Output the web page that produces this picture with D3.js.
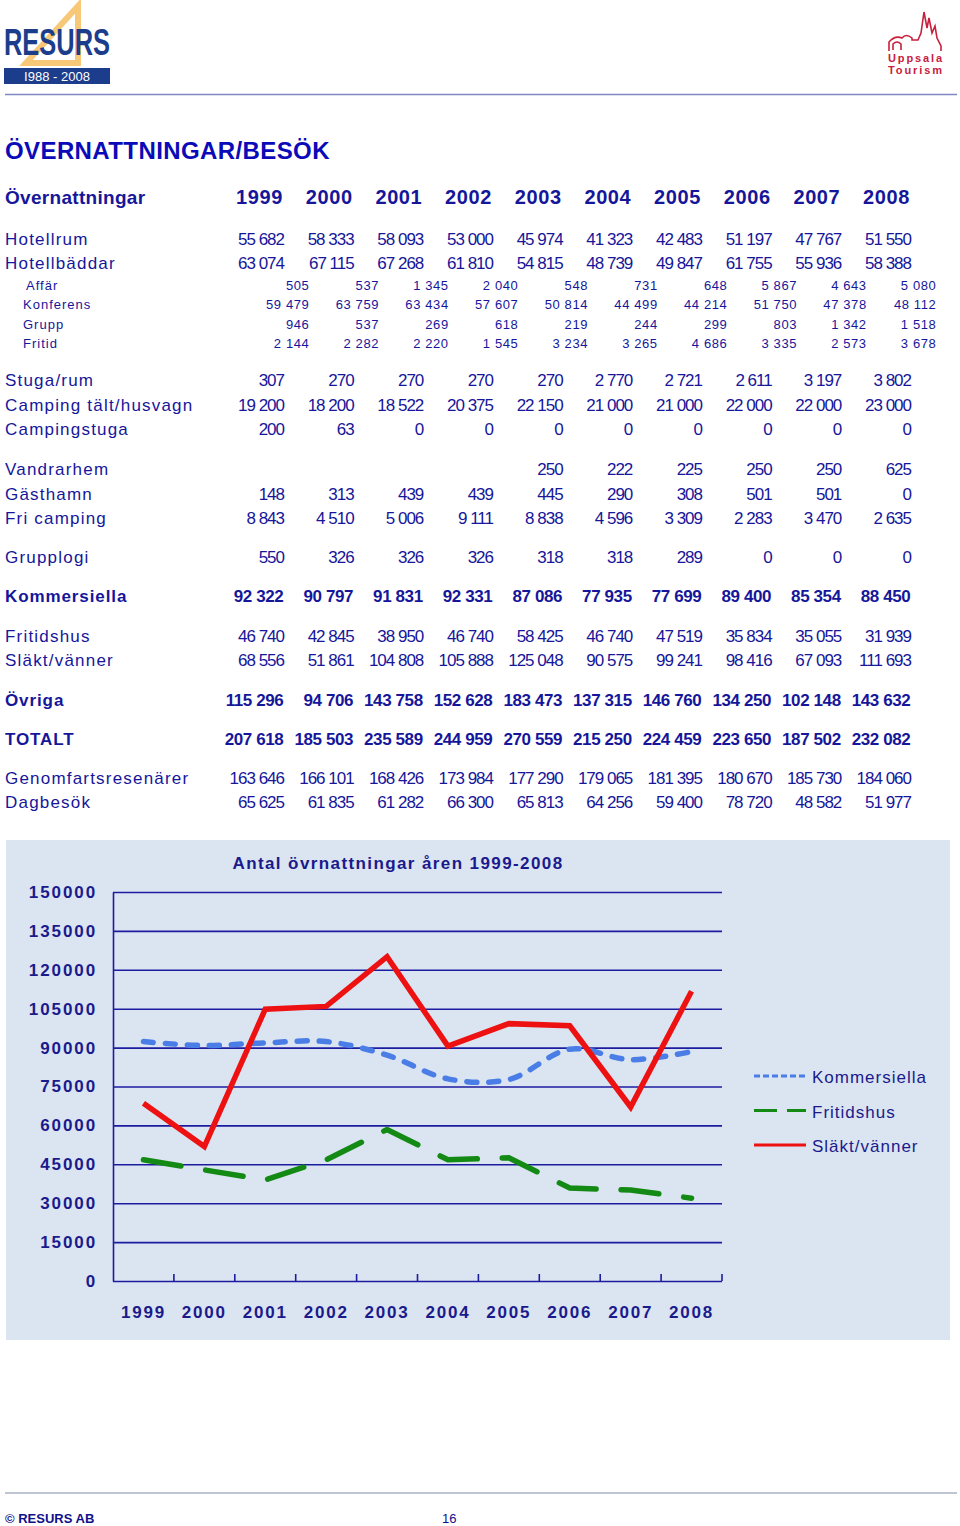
<!DOCTYPE html>
<html>
<body style="margin:0;background:#fff">
<meta charset="UTF-8">
<title>Övernattningar/besök</title>
<style>
    svg text { font-family: "Liberation Sans", Arial, sans-serif; }
</style>
<script src="https://d3js.org/d3.v7.min.js"></script>
<script>

    var years = [1999, 2000, 2001, 2002, 2003, 2004, 2005, 2006, 2007, 2008];

    var hotellrum      = [55682, 58333, 58093, 53000, 45974, 41323, 42483, 51197, 47767, 51550];
    var hotellbaddar   = [63074, 67115, 67268, 61810, 54815, 48739, 49847, 61755, 55936, 58388];
    var affar          = [505, 537, 1345, 2040, 548, 731, 648, 5867, 4643, 5080];
    var konferens      = [59479, 63759, 63434, 57607, 50814, 44499, 44214, 51750, 47378, 48112];
    var grupp          = [946, 537, 269, 618, 219, 244, 299, 803, 1342, 1518];
    var fritid         = [2144, 2282, 2220, 1545, 3234, 3265, 4686, 3335, 2573, 3678];
    var stugaRum       = [307, 270, 270, 270, 270, 2770, 2721, 2611, 3197, 3802];
    var campingTalt    = [19200, 18200, 18522, 20375, 22150, 21000, 21000, 22000, 22000, 23000];
    var campingstuga   = [200, 63, 0, 0, 0, 0, 0, 0, 0, 0];
    var vandrarhem     = [null, null, null, null, 250, 222, 225, 250, 250, 625];
    var gasthamn       = [148, 313, 439, 439, 445, 290, 308, 501, 501, 0];
    var friCamping     = [8843, 4510, 5006, 9111, 8838, 4596, 3309, 2283, 3470, 2635];
    var grupplogi      = [550, 326, 326, 326, 318, 318, 289, 0, 0, 0];
    var kommersiella   = [92322, 90797, 91831, 92331, 87086, 77935, 77699, 89400, 85354, 88450];
    var fritidshus     = [46740, 42845, 38950, 46740, 58425, 46740, 47519, 35834, 35055, 31939];
    var slaktVanner    = [68556, 51861, 104808, 105888, 125048, 90575, 99241, 98416, 67093, 111693];
    var ovriga         = [115296, 94706, 143758, 152628, 183473, 137315, 146760, 134250, 102148, 143632];
    var totalt         = [207618, 185503, 235589, 244959, 270559, 215250, 224459, 223650, 187502, 232082];
    var genomfart      = [163646, 166101, 168426, 173984, 177290, 179065, 181395, 180670, 185730, 184060];
    var dagbesok       = [65625, 61835, 61282, 66300, 65813, 64256, 59400, 78720, 48582, 51977];

    var yTicks = d3.range(0, 150001, 15000);

    var navy = "#16169a";
    var font = "'Liberation Sans', Arial, sans-serif";

    var svg = d3.select("body")
        .append("svg")
        .attr("width", 960)
        .attr("height", 1526);

    // ---- header logos ----
    var logo = svg.append("g");
    logo.append("path")
        .attr("d", "M78,6 L78,63 L26,63 Z")
        .attr("fill", "none")
        .attr("stroke", "#f7c877")
        .attr("stroke-width", 6)
        .attr("stroke-linejoin", "miter");
    logo.append("text")
        .attr("x", 4).attr("y", 55)
        .attr("textLength", 106).attr("lengthAdjust", "spacingAndGlyphs")
        .style("font-size", "37px").style("font-weight", "bold")
        .attr("fill", "#1c3d8c")
        .text("RESURS");
    logo.append("rect")
        .attr("x", 4).attr("y", 68).attr("width", 106).attr("height", 16)
        .attr("fill", "#1c3d8c");
    logo.append("text")
        .attr("x", 57).attr("y", 81)
        .attr("text-anchor", "middle")
        .style("font-size", "13px")
        .attr("fill", "#fff")
        .text("I988 - 2008");

    var ut = svg.append("g").attr("fill", "none").attr("stroke", "#c8203c").attr("stroke-width", 1.6);
    ut.append("path")
        .attr("d", "M889,51 L889,42 Q895,35 902,38 Q906,33 912,38 L912,40 L918,40 L921,33 L924,12 L927,28 L929,18 L932,33 L935,26 L937,38 L941,46 L941,51");
    ut.append("path").attr("d", "M893,50 L893,44 Q897,40 901,44 L901,50");
    svg.append("text").attr("x", 915).attr("y", 62).attr("text-anchor", "middle")
        .style("font-size", "11px").style("font-weight", "bold").attr("fill", "#c8203c")
        .attr("textLength", 54).text("Uppsala");
    svg.append("text").attr("x", 915).attr("y", 74).attr("text-anchor", "middle")
        .style("font-size", "11px").style("font-weight", "bold").attr("fill", "#c8203c")
        .attr("textLength", 54).text("Tourism");

    svg.append("line").attr("x1", 5).attr("x2", 957).attr("y1", 94.5).attr("y2", 94.5)
        .attr("stroke", "#8088c4").attr("stroke-width", 1.5);

    // ---- page title ----
    svg.append("text")
        .attr("x", 5).attr("y", 159)
        .style("font-size", "24px").style("font-weight", "bold")
        .style("letter-spacing", "0.4px")
        .attr("fill", "#0a0ab8")
        .text("ÖVERNATTNINGAR/BESÖK");

    // ---- table ----
    var locale = d3.formatLocale({ decimal: ",", thousands: " ", grouping: [3], currency: ["", ""] });
    var fmt = locale.format(",");

    var colX = d3.scalePoint().domain(years).range([283, 910]);

    var rows = [
        { label: "Hotellrum", values: hotellrum, kind: "main", y: 245 },
        { label: "Hotellbäddar", values: hotellbaddar, kind: "main", y: 269 },
        { label: "Affär", values: affar, kind: "sub", y: 290, indent: 26 },
        { label: "Konferens", values: konferens, kind: "sub", y: 309 },
        { label: "Grupp", values: grupp, kind: "sub", y: 329 },
        { label: "Fritid", values: fritid, kind: "sub", y: 348 },
        { label: "Stuga/rum", values: stugaRum, kind: "main", y: 386 },
        { label: "Camping tält/husvagn", values: campingTalt, kind: "main", y: 411 },
        { label: "Campingstuga", values: campingstuga, kind: "main", y: 435 },
        { label: "Vandrarhem", values: vandrarhem, kind: "main", y: 475 },
        { label: "Gästhamn", values: gasthamn, kind: "main", y: 500 },
        { label: "Fri camping", values: friCamping, kind: "main", y: 524 },
        { label: "Grupplogi", values: grupplogi, kind: "main", y: 563 },
        { label: "Kommersiella", values: kommersiella, kind: "bold", y: 602 },
        { label: "Fritidshus", values: fritidshus, kind: "main", y: 642 },
        { label: "Släkt/vänner", values: slaktVanner, kind: "main", y: 666 },
        { label: "Övriga", values: ovriga, kind: "bold", y: 706 },
        { label: "TOTALT", values: totalt, kind: "bold", y: 745 },
        { label: "Genomfartsresenärer", values: genomfart, kind: "main", y: 784 },
        { label: "Dagbesök", values: dagbesok, kind: "main", y: 808 }
    ];

    var styles = {
        main: { size: 17, weight: "normal", ls: 1.2, numLs: -1, x: 5, dx: 0 },
        sub:  { size: 13, weight: "normal", ls: 1.0, numLs: 0.6, x: 23, dx: 27 },
        bold: { size: 17, weight: "bold", ls: 0.9, numLs: -0.4, x: 5, dx: 0 }
    };

    var table = svg.append("g").attr("fill", navy);

    // header row
    table.append("text")
        .attr("x", 5).attr("y", 204)
        .style("font-size", "19px").style("font-weight", "bold")
        .style("letter-spacing", "0.3px")
        .text("Övernattningar");
    table.selectAll(".year")
        .data(years)
        .enter().append("text")
        .attr("class", "year")
        .attr("x", function(d) { return colX(d); })
        .attr("y", 204)
        .attr("text-anchor", "end")
        .style("font-size", "20px").style("font-weight", "bold")
        .style("letter-spacing", "0.6px")
        .text(function(d) { return d; });

    var rowG = table.selectAll(".row")
        .data(rows)
        .enter().append("g")
        .attr("class", "row");

    rowG.append("text")
        .attr("x", function(d) { return d.indent || styles[d.kind].x; })
        .attr("y", function(d) { return d.y; })
        .style("font-size", function(d) { return styles[d.kind].size + "px"; })
        .style("font-weight", function(d) { return styles[d.kind].weight; })
        .style("letter-spacing", function(d) { return styles[d.kind].ls + "px"; })
        .text(function(d) { return d.label; });

    rowG.each(function(r) {
        var s = styles[r.kind];
        d3.select(this).selectAll(".num")
            .data(r.values.map(function(v, i) { return { v: v, year: years[i] }; })
                .filter(function(d) { return d.v !== null; }))
            .enter().append("text")
            .attr("class", "num")
            .attr("x", function(d) { return colX(d.year) + s.dx - s.numLs; })
            .attr("y", r.y)
            .attr("text-anchor", "end")
            .style("font-size", s.size + "px")
            .style("font-weight", s.weight)
            .style("letter-spacing", s.numLs + "px")
            .text(function(d) { return fmt(d.v); });
    });

    // ---- chart ----
    var panel = { x: 6, y: 840, w: 944, h: 500 };
    svg.append("rect")
        .attr("x", panel.x).attr("y", panel.y)
        .attr("width", panel.w).attr("height", panel.h)
        .attr("fill", "#dbe4f1");

    var x = d3.scaleBand().domain(years).range([113, 722]);
    var y = d3.scaleLinear().domain([0, 150000]).range([1281, 892]);

    var chart = svg.append("g");

    var yAxis = chart.append("g")
        .attr("transform", "translate(113,0)")
        .call(d3.axisLeft(y).tickValues(yTicks).tickFormat(d3.format("d"))
            .tickSize(-609).tickSizeOuter(0).tickPadding(16));
    yAxis.selectAll("line").attr("stroke", "#1c1ca0").attr("stroke-width", 1.6);
    yAxis.select(".domain").attr("stroke", "#1c1ca0").attr("stroke-width", 1.6);
    yAxis.selectAll("text")
        .attr("fill", "#1a1a8c")
        .style("font-family", font)
        .style("font-size", "17px").style("font-weight", "bold")
        .style("letter-spacing", "1.9px");

    var xAxis = chart.append("g")
        .attr("transform", "translate(0,1281)")
        .call(d3.axisBottom(x).tickSize(0).tickPadding(25));
    xAxis.select(".domain").remove();
    xAxis.selectAll("text")
        .attr("fill", "#1a1a8c")
        .style("font-family", font)
        .style("font-size", "17px").style("font-weight", "bold")
        .style("letter-spacing", "1.8px");

    // tick marks between categories
    chart.selectAll(".xtick")
        .data(years.slice(1).map(function(d) { return x(d); }).concat([x.range()[1]]))
        .enter().append("line")
        .attr("class", "xtick")
        .attr("x1", function(d) { return d; }).attr("x2", function(d) { return d; })
        .attr("y1", 1281).attr("y2", 1274)
        .attr("stroke", "#1c1ca0").attr("stroke-width", 1.6);

    var cx = function(d, i) { return x(years[i]) + x.bandwidth() / 2; };

    var series = [
        { name: "Kommersiella", values: kommersiella, color: "#4a7ee6", dash: "10,12", curve: d3.curveCatmullRom.alpha(0.5), legendDash: "6,3" },
        { name: "Fritidshus", values: fritidshus, color: "#138a13", dash: "38,25", curve: d3.curveLinear, legendDash: "23,10" },
        { name: "Släkt/vänner", values: slaktVanner, color: "#ee1111", dash: null, curve: d3.curveLinear, legendDash: null }
    ];

    series.forEach(function(s) {
        var line = d3.line().x(cx).y(function(d) { return y(d); }).curve(s.curve);
        chart.append("path")
            .datum(s.values)
            .attr("d", line)
            .attr("fill", "none")
            .attr("stroke", s.color)
            .attr("stroke-width", 5.5)
            .attr("stroke-linecap", s.dash ? "round" : "butt")
            .attr("stroke-linejoin", "miter")
            .attr("stroke-dasharray", s.dash);
    });

    chart.append("text")
        .attr("x", 398).attr("y", 869)
        .attr("text-anchor", "middle")
        .attr("fill", "#1a1a8c")
        .style("font-size", "17px").style("font-weight", "bold")
        .style("letter-spacing", "1.4px")
        .text("Antal övrnattningar åren 1999-2008");

    var legend = chart.selectAll(".legend")
        .data(series)
        .enter().append("g")
        .attr("class", "legend")
        .attr("transform", function(d, i) { return "translate(754," + (1076 + i * 34.5) + ")"; });
    legend.append("line")
        .attr("x1", 0).attr("x2", 52)
        .attr("stroke", function(d) { return d.color; })
        .attr("stroke-width", 3)
        .attr("stroke-dasharray", function(d) { return d.legendDash; });
    legend.append("text")
        .attr("x", 58).attr("y", 7)
        .attr("fill", "#1a1a8c")
        .style("font-size", "17px")
        .style("letter-spacing", "1px")
        .text(function(d) { return d.name; });

    // ---- footer ----
    svg.append("line").attr("x1", 5).attr("x2", 957).attr("y1", 1493).attr("y2", 1493)
        .attr("stroke", "#aab2c6").attr("stroke-width", 1.5);
    svg.append("text").attr("x", 5).attr("y", 1523)
        .style("font-size", "13px").style("font-weight", "bold")
        .attr("fill", "#10108c")
        .text("© RESURS  AB");
    svg.append("text").attr("x", 442).attr("y", 1523)
        .style("font-size", "13px")
        .attr("fill", "#10108c")
        .text("16");

</script>
</body>
</html>
